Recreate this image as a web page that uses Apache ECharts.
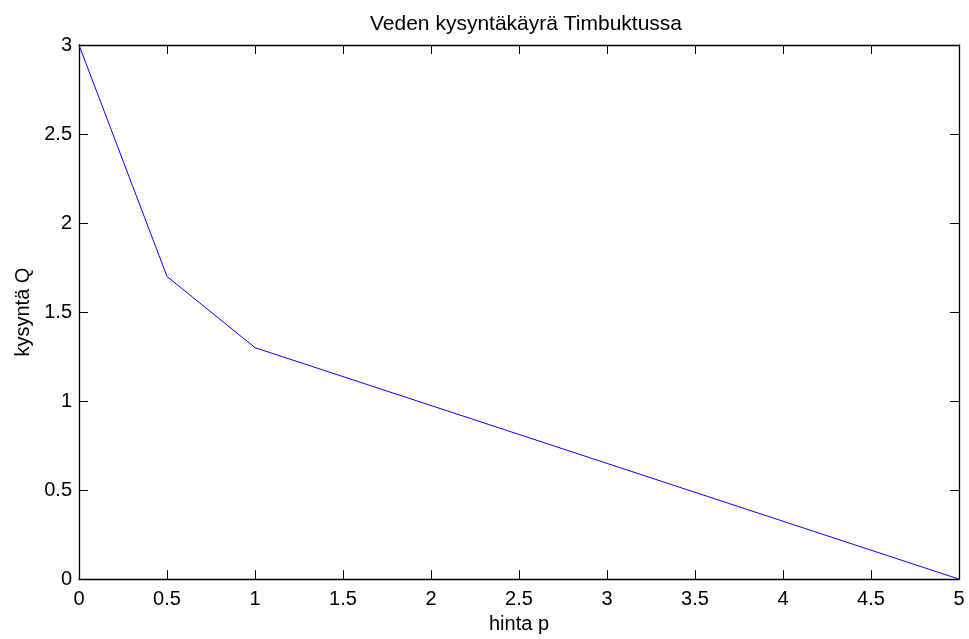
<!DOCTYPE html>
<html><head><meta charset="utf-8">
<script src="https://cdn.jsdelivr.net/npm/echarts@6/dist/echarts.min.js"></script>
<style>html,body{margin:0;padding:0;background:#fff}#c{width:969px;height:639px}</style>
</head><body><div id="c"></div>
<script>
var price = [0, 0.5, 1, 5];
var demand = [3, 1.7, 1.3, 0];
var titleText = 'Veden kysyntäkäyrä Timbuktussa';
var xLabel = 'hinta p';
var yLabel = 'kysyntä Q';

var chart = echarts.init(document.getElementById('c'), null, {renderer:'canvas'});
var font = 'Liberation Sans, Arial, Helvetica, sans-serif';
var axisCommon = {
  axisLine: {show: true, onZero: false, lineStyle: {color: '#000', width: 1.3}},
  axisTick: {show: true, inside: true, length: 9, lineStyle: {color: '#000', width: 1}},
  splitLine: {show: false},
  axisLabel: {color: '#000', fontFamily: font, fontSize: 20}
};
chart.setOption({
  animation: false,
  backgroundColor: '#fff',
  title: {text: titleText, left: 521, top: 9, textAlign: 'center',
    textStyle: {fontFamily: font, fontSize: 21, fontWeight: 'normal', color: '#000'}},
  grid: {left: 79, right: 10, top: 45, bottom: 58, containLabel: false},
  xAxis: [
    Object.assign({}, axisCommon, {type: 'value', position: 'bottom', min: 0, max: 5, interval: 0.5,
      name: xLabel, nameLocation: 'middle', nameGap: 30,
      nameTextStyle: {fontFamily: font, fontSize: 20, color: '#000'},
      axisLabel: Object.assign({}, axisCommon.axisLabel, {margin: 10})}),
    Object.assign({}, axisCommon, {type: 'value', position: 'top', min: 0, max: 5, interval: 0.5,
      axisLabel: {show: false}})
  ],
  yAxis: [
    Object.assign({}, axisCommon, {type: 'value', position: 'left', min: 0, max: 3, interval: 0.5,
      name: yLabel, nameLocation: 'middle', nameGap: 45, nameRotate: 90,
      nameTextStyle: {fontFamily: font, fontSize: 20, color: '#000'},
      axisLabel: Object.assign({}, axisCommon.axisLabel, {margin: 7})}),
    Object.assign({}, axisCommon, {type: 'value', position: 'right', min: 0, max: 3, interval: 0.5,
      axisLabel: {show: false}})
  ],
  series: [{
    type: 'line',
    data: price.map(function(p, i){ return [p, demand[i]]; }),
    showSymbol: false,
    lineStyle: {color: '#0000ff', width: 1},
    itemStyle: {color: '#0000ff'}
  }]
});
</script></body></html>
